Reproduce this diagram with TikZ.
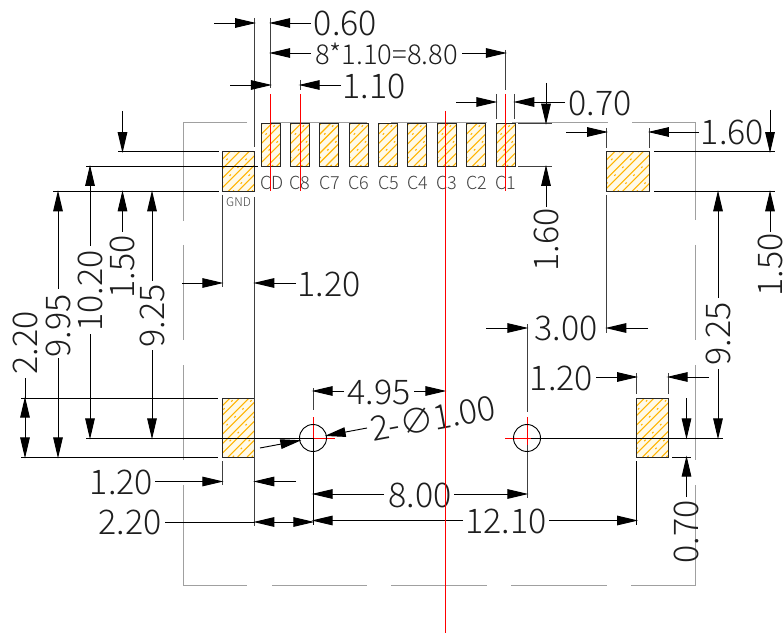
\documentclass[tikz,border=0pt]{standalone}
\usepackage{fontspec}
\setmainfont{Noto Sans CJK SC Light}
\usetikzlibrary{arrows.meta}
\definecolor{hatchc}{HTML}{FFB400}
\definecolor{padfill}{HTML}{FFFAE8}
\definecolor{outl}{HTML}{A0A0A0}
\definecolor{txt}{HTML}{1E1E1E}
\tikzset{
  >={Triangle[length=15.75pt,width=7.2pt]},
  dimline/.style={draw=black,line width=.7pt,shorten >=-1pt},
  plainline/.style={draw=black,line width=.7pt},
  extline/.style={draw=black!75,line width=.7pt},
  outline/.style={draw=outl,line width=.7pt},
  redline/.style={draw=red,line width=.7pt},
  dimtext/.style={inner sep=0pt,font=\fontsize{25.5pt}{25.5pt}\selectfont,text=txt},
  vdimtext/.style={dimtext,rotate=90},
  padlabel/.style={inner sep=0pt,font=\fontsize{13.5pt}{13.5pt}\selectfont,text=black!75},
  gndlabel/.style={inner sep=0pt,font=\fontsize{9pt}{9pt}\selectfont,text=black!75},
  padedge/.style={draw=black!85,line width=.75pt},
  hatchline/.style={draw=hatchc,line width=.8pt},
  hatchdot/.style={draw=hatchc,line width=.8pt,dash pattern=on 1.4pt off 7pt},
}
\newcommand{\padbox}[4]{%
  \fill[padfill] (#1,#2) rectangle (#3,#4);
  \begin{scope}
    \clip (#1,#2) rectangle (#3,#4);
    \foreach \k in {-70,-60.5,...,120}{
      \draw[hatchline] (#1+\k,#4) -- ++(80,-80);
    }
    \foreach \k in {-70,-51,...,120}{
      \draw[hatchdot] (#1+\k+4.75,#4) -- ++(80,-80);
    }
  \end{scope}
  \draw[padedge] (#1,#2) rectangle (#3,#4);
}
\begin{document}
\begin{tikzpicture}[x=.75pt,y=-.75pt]
\useasboundingbox (0,0) rectangle (784,634);
\fill[white] (0,0) rectangle (784,634);
% outline
\draw[outline] (247,122) -- (183,122) -- (183,221);
\draw[outline] (270,122) -- (367,122);
\draw[outline] (391,122) -- (487,122);
\draw[outline] (512,122) -- (608,122);
\draw[outline] (632,122) -- (695,122) -- (695,220);
\draw[outline] (183,245) -- (183,340);
\draw[outline] (183,365) -- (183,460);
\draw[outline] (183,485) -- (183,585) -- (247,585);
\draw[outline] (272,585) -- (367,585);
\draw[outline] (391,585) -- (487,585);
\draw[outline] (511,585) -- (607,585);
\draw[outline] (631,585) -- (695,585) -- (695,485);
\draw[outline] (695,245) -- (695,340);
\draw[outline] (695,365) -- (695,460);
% pads
\foreach \x in {261,290.3,319.7,349.3,378.3,407.7,437.3,466.3,496}{
  \padbox{\x}{123.3}{\x+19}{166.3}
}
\padbox{222}{151.7}{254.7}{191.7}
\padbox{606.7}{151.7}{649.3}{191.7}
\padbox{222}{398}{254.7}{457}
\padbox{636.7}{398}{668}{457}
% pad labels
\node[padlabel] (lcd) at (272,183) {CD};
\node[padlabel] (lc8) at (300,183) {C8};
\node[padlabel] (lc7) at (329.5,183) {C7};
\node[padlabel] (lc6) at (359,183) {C6};
\node[padlabel] (lc5) at (389,183) {C5};
\node[padlabel] (lc4) at (418,183) {C4};
\node[padlabel] (lc3) at (447,183) {C3};
\node[padlabel] (lc2) at (477,183) {C2};
\node[padlabel] (lc1) at (506,183) {C1};
\node[gndlabel] (lgnd) at (238.5,202) {GND};
% red crosses at the holes, below the black lines
\coordinate (hl) at (313,438);
\coordinate (hr) at (527,438);
\draw[redline] (313,417) -- (313,458);
\draw[redline] (292,438) -- (335,438);
\draw[redline] (527,417) -- (527,460);
\draw[redline] (505,438) -- (548,438);
% extension lines
\draw[extline] (254.7,18) -- (254.7,147);
\draw[extline] (254.7,197) -- (254.7,526);
\draw[extline] (270.5,18) -- (270.5,88);
\draw[extline] (300,80) -- (300,90);
\draw[extline] (505.5,50) -- (505.5,90);
\draw[extline] (496,94) -- (496,119);
\draw[extline] (514.7,94) -- (514.7,119);
\draw[extline] (518,123.3) -- (552,123.3);
\draw[extline] (518,166.3) -- (552,166.3);
\draw[extline] (606.7,128) -- (606.7,148);
\draw[extline] (649.3,128) -- (649.3,148);
\draw[extline] (606.7,195) -- (606.7,333);
\draw[plainline] (654,151.7) -- (775,151.7);
\draw[plainline] (654,191.7) -- (775,191.7);
\draw[plainline] (118,151.7) -- (219,151.7);
\draw[plainline] (86,166.3) -- (258,166.3);
\draw[plainline] (53,191.7) -- (219,191.7);
\draw[extline] (222,195) -- (222,287);
\draw[plainline] (21,398) -- (218,398);
\draw[plainline] (21,457) -- (218,457);
\draw[plainline] (86,438) -- (313,438);
\draw[plainline] (531,438) -- (723,438);
\draw[extline] (222,461) -- (222,485);
\draw[extline] (313,388) -- (313,410);
\draw[plainline] (313,438) -- (313,525);
\draw[extline] (527,324) -- (527,412);
\draw[extline] (527,445) -- (527,498);
\draw[extline] (636.7,373) -- (636.7,394);
\draw[extline] (668,373) -- (668,394);
\draw[plainline] (636.7,461) -- (636.7,525);
\draw[plainline] (672,457) -- (691,457);
% horizontal dimensions
\draw[dimline,->] (214,23) -- (254.7,23);
\draw[dimline,->] (311,23) -- (270.5,23);
\node[dimtext] (t060) at (345.5,23) {0.60};
\draw[dimline,->] (311,53) -- (270.5,53);
\draw[dimline,->] (462,53) -- (505.5,53);
\node[dimtext,font=\fontsize{20.5pt}{20.5pt}\selectfont] (t880) at (386.5,54) {8*1.10=8.80};
\draw[dimline,->] (230,85) -- (270.5,85);
\draw[dimline,->] (341,85) -- (300,85);
\node[dimtext] (t110) at (374,86) {1.10};
\draw[dimline,->] (456,102) -- (496,102);
\draw[dimline,->] (565,102) -- (514.7,102);
\node[dimtext] (t070a) at (600,103) {0.70};
\draw[dimline,->] (566,132) -- (606.7,132);
\draw[dimline,->] (699,132) -- (649.3,132);
\node[dimtext] (t160a) at (732.5,132) {1.60};
\draw[dimline,->] (182,283) -- (222,283);
\draw[dimline,->] (296,283) -- (254.7,283);
\node[dimtext] (t120a) at (329,284) {1.20};
\draw[dimline,->] (486,328) -- (527,328);
\draw[dimline,->] (648,328) -- (606.7,328);
\node[dimtext] (t300) at (566,328) {3.00};
\draw[dimline,->] (596,377) -- (636.7,377);
\draw[dimline,->] (709,377) -- (668,377);
\node[dimtext] (t120b) at (561.5,378) {1.20};
\draw[dimline,->] (344,391) -- (313,391);
\draw[dimline,->] (414,391) -- (445,391);
\node[dimtext] (t495) at (379,392) {4.95};
\draw[dimline,->] (155,481.5) -- (222,481.5);
\draw[dimline,->] (296,481.5) -- (254.7,481.5);
\node[dimtext] (t120c) at (121.5,482) {1.20};
\draw[dimline,->] (384,494) -- (313,494);
\draw[dimline,->] (454,494) -- (527,494);
\node[dimtext] (t800) at (420,495) {8.00};
\draw[dimline,->] (463,520.5) -- (313,520.5);
\draw[dimline,->] (549,520.5) -- (636.7,520.5);
\node[dimtext] (t1210) at (506,521) {12.10};
\draw[plainline] (165,522) -- (255,522);
\draw[dimline,shorten <=-1pt,<->] (254.7,522) -- (313,522);
\node[dimtext] (t220a) at (130,522) {2.20};
% vertical dimensions
\draw[dimline,->] (546,83) -- (546,123.3);
\draw[dimline,->] (546,207) -- (546,166.3);
\node[vdimtext] (t160b) at (546,240) {1.60};
\draw[dimline,->] (770,110) -- (770,151.7);
\draw[dimline,->] (770,232) -- (770,191.7);
\node[vdimtext] (t150a) at (770,265) {1.50};
\draw[dimline,->] (718,298) -- (718,191.7);
\draw[dimline,->] (718,369) -- (718,438);
\node[vdimtext] (t925a) at (718,334) {9.25};
\draw[dimline,->] (686.5,398) -- (686.5,438);
\draw[dimline,->] (686.5,497) -- (686.5,457);
\node[vdimtext] (t070b) at (686.5,532) {0.70};
\draw[dimline,->] (122.5,111) -- (122.5,151.7);
\draw[dimline,->] (122.5,232) -- (122.5,191.7);
\node[vdimtext] (t150b) at (122.5,267) {1.50};
\draw[dimline,->] (90,246) -- (90,166.3);
\draw[dimline,->] (90,334) -- (90,438);
\node[vdimtext] (t1020) at (90,291) {10.20};
\draw[dimline,->] (58,289) -- (58,191.7);
\draw[dimline,->] (58,358) -- (58,457);
\node[vdimtext] (t995) at (58,326) {9.95};
\draw[dimline,->] (152,281) -- (152,191.7);
\draw[dimline,->] (152,350) -- (152,438);
\node[vdimtext] (t925b) at (152,316) {9.25};
\draw[plainline] (25,378) -- (25,398);
\draw[dimline,shorten <=-1pt,<->] (25,398) -- (25,457);
\node[vdimtext] (t220b) at (25,343) {2.20};
% holes
\draw[plainline] (hl) circle (13.5);
\draw[plainline] (hr) circle (13.5);
% diameter leader
\draw[dimline,->] (260,448) -- (300,440.5);
\draw[dimline,->] (367,428) -- (326,435.7);
\node[dimtext,rotate=10.6] (tdia) at (433,418) {2-∅1.00};
% red centre lines
\draw[redline] (270.5,94) -- (270.5,191);
\draw[redline] (300,94) -- (300,191);
\draw[redline] (505.5,94) -- (505.5,191);
\draw[redline] (445,111) -- (445,633);
\end{tikzpicture}
\end{document}
